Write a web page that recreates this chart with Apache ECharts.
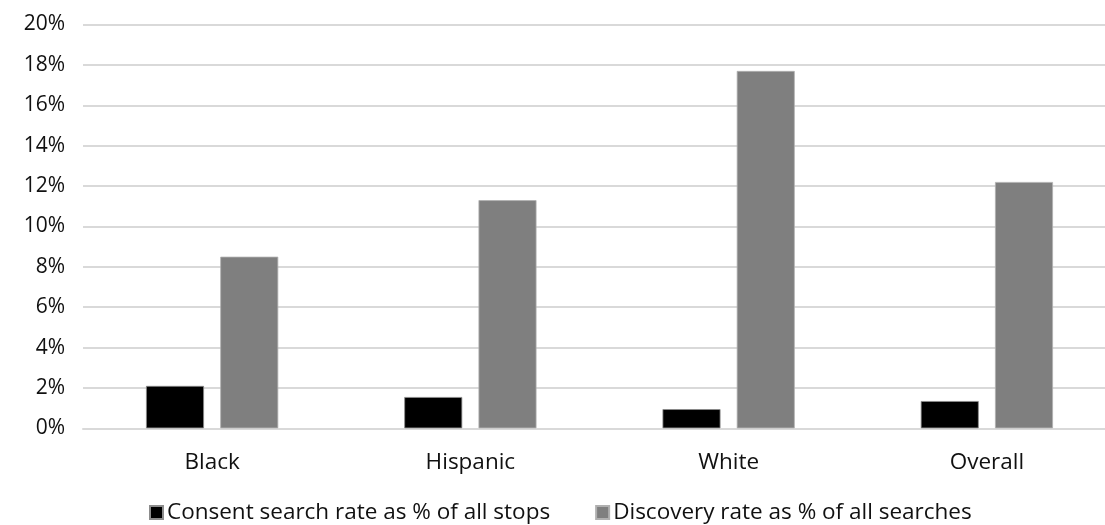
<!DOCTYPE html>
<html>
<head>
<meta charset="utf-8">
<script src="https://cdn.jsdelivr.net/npm/echarts@6/dist/echarts.min.js"></script>
<style>
  html, body { margin: 0; padding: 0; background: #ffffff; overflow: hidden; }
  /* the drawing surface is a little wider than the window, so the plot runs off the right edge */
  #wrap { width: 1105px; height: 525px; overflow: hidden; }
  #chart { width: 1116px; height: 525px; }
</style>
</head>
<body>
<div id="wrap"><div id="chart"></div></div>
<script>
// Groups along the x axis
const categories = ['Black', 'Hispanic', 'White', 'Overall'];

// Rates in percent
const consentSearchRate = [2.1, 1.55, 0.95, 1.35];
const discoveryRate = [8.5, 11.3, 17.7, 12.2];

const seriesNames = [
  'Consent search rate as % of all stops',
  'Discovery rate as % of all searches'
];

const FONT = '"Open Sans", "Liberation Sans", sans-serif';

const chart = echarts.init(document.getElementById('chart'), null, { renderer: 'canvas' });

chart.setOption({
  backgroundColor: '#ffffff',
  animation: false,
  textStyle: { fontFamily: FONT, color: '#111111' },
  grid: { left: 83, right: 0, top: 24.5, height: 403.8, containLabel: false },
  legend: {
    left: 144,
    top: 496,
    itemWidth: 13,
    itemHeight: 13,
    itemGap: 45,
    icon: 'rect',
    textStyle: { fontFamily: FONT, fontSize: 22.5, color: '#111111', padding: [0, 0, 0, -1] },
    data: seriesNames
  },
  xAxis: {
    type: 'category',
    data: categories,
    axisLine: { show: true, lineStyle: { color: '#d9d9d9', width: 2 } },
    axisTick: { show: false },
    axisLabel: { fontFamily: FONT, fontSize: 22.5, color: '#111111', margin: 23 },
    splitLine: { show: false }
  },
  yAxis: {
    type: 'value',
    min: 0,
    max: 20,
    interval: 2,
    axisLine: { show: false },
    axisTick: { show: false },
    axisLabel: {
      fontFamily: FONT, fontSize: 21, color: '#111111', margin: 18,
      formatter: v => v + '%'
    },
    splitLine: { show: true, lineStyle: { color: '#d9d9d9', width: 2 } }
  },
  series: [
    {
      name: seriesNames[0],
      type: 'bar',
      data: consentSearchRate,
      barWidth: 58,
      barGap: '28%',
      itemStyle: { color: '#000000', borderColor: '#8c8c8c', borderWidth: 0.8 }
    },
    {
      name: seriesNames[1],
      type: 'bar',
      data: discoveryRate,
      barWidth: 58,
      barGap: '28%',
      itemStyle: { color: '#7f7f7f', borderColor: '#b0b0b0', borderWidth: 0.8 }
    }
  ]
});
</script>
</body>
</html>
